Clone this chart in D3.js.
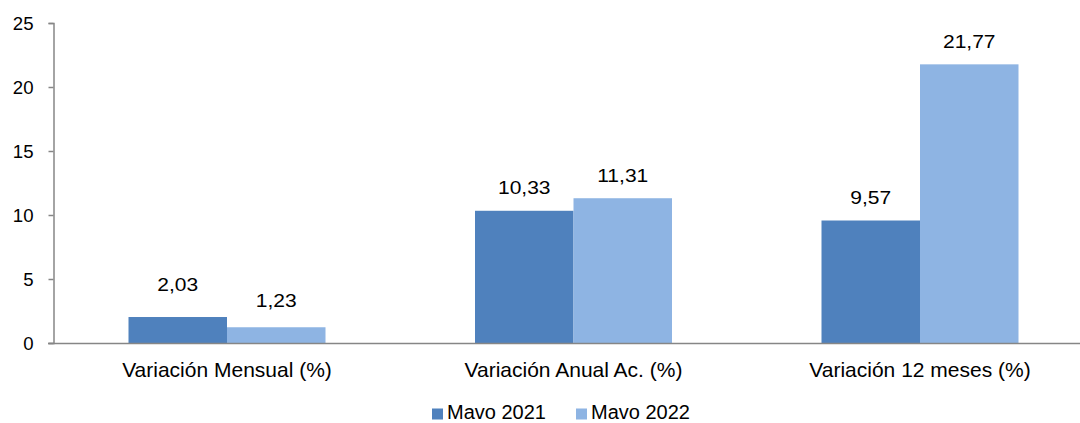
<!DOCTYPE html>
<html><head><meta charset="utf-8">
<script src="https://cdn.jsdelivr.net/npm/d3@7"></script>
<style>body{margin:0;background:#fff}svg{display:block}text{font-family:"Liberation Sans",Arial,sans-serif;fill:#000}</style>
</head><body><svg id="c" width="1080" height="423"></svg>
<script>
const categories = ["Variación Mensual (%)", "Variación Anual Ac. (%)", "Variación 12 meses (%)"];
const seriesNames = ["Mavo 2021", "Mavo 2022"];
const mayo2021 = [2.03, 10.33, 9.57];
const mayo2022 = [1.23, 11.31, 21.77];
const yTicks = [0, 5, 10, 15, 20, 25];
const colors = ["#4F81BD", "#8EB4E3"];

(function () {
const svg = d3.select("#c");
const plotLeft = 53.5, plotTop = 23, plotBottom = 343;
const y = d3.scaleLinear().domain([0, 25]).range([plotBottom, plotTop]);
const x0 = d3.scaleBand().domain(categories).range([53.75, 1093.25]).paddingInner(0).paddingOuter(0);
const groupW = 197;
const x1 = d3.scaleBand().domain([0, 1]).range([0, groupW]);
const series = [mayo2021, mayo2022];
const fmt = v => d3.format(".2f")(v).replace(".", ",");
// extra vertical lift of individual labels (as placed in the original)
const labelLift = [[9, 0, 0], [3.5, 0, 0]];

series.forEach((vals, si) => {
  svg.append("g").selectAll("rect").data(vals).join("rect")
    .attr("x", (d, i) => x0(categories[i]) + (x0.bandwidth() - groupW) / 2 + x1(si))
    .attr("width", x1.bandwidth())
    .attr("y", d => y(d))
    .attr("height", d => plotBottom - y(d))
    .attr("fill", colors[si]);
  svg.append("g").selectAll("text").data(vals).join("text")
    .attr("transform", (d, i) => {
      const cx = x0(categories[i]) + (x0.bandwidth() - groupW) / 2 + x1(si) + x1.bandwidth() / 2;
      const cy = y(d) - 16.7 - labelLift[si][i];
      return `translate(${cx},${cy}) scale(1.13,1)`;
    })
    .attr("text-anchor", "middle")
    .style("font-size", "18.6px")
    .text(fmt);
});

const ya = svg.append("g").attr("transform", `translate(${plotLeft},0)`)
  .call(d3.axisLeft(y).tickValues(yTicks).tickSize(5).tickPadding(15));
ya.select(".domain").attr("stroke", "#868686").attr("stroke-width", 1.5);
ya.selectAll(".tick line").attr("stroke", "#868686").attr("stroke-width", 1.5);
ya.selectAll(".tick text").style("font-size", "18.6px").attr("fill", "#000").attr("dy", "0.35em");

svg.append("line").attr("x1", 48).attr("x2", 1080).attr("y1", plotBottom + 0.5).attr("y2", plotBottom + 0.5)
  .attr("stroke", "#868686").attr("stroke-width", 1.5);

svg.append("g").selectAll("text").data(categories).join("text")
  .attr("x", d => x0(d) + x0.bandwidth() / 2)
  .attr("y", 377)
  .attr("text-anchor", "middle")
  .style("font-size", "21px")
  .text(d => d);

const lg = svg.append("g");
const legX = [432, 576];
seriesNames.forEach((n, i) => {
  lg.append("rect").attr("x", legX[i]).attr("y", 408.5).attr("width", 11).attr("height", 11).attr("fill", colors[i]);
  lg.append("text").attr("x", legX[i] + 15).attr("y", 419).style("font-size", "20px").text(n);
});
})();
</script></body></html>
